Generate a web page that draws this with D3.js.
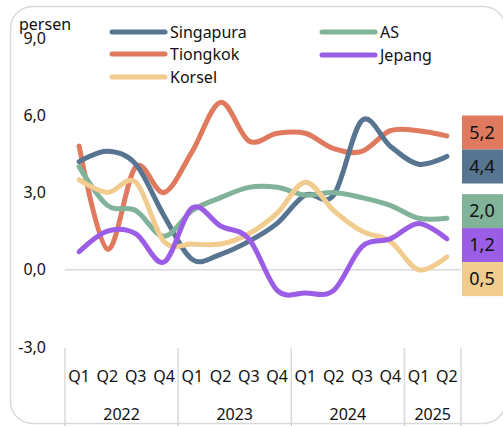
<!DOCTYPE html>
<html>
<head>
<meta charset="utf-8">
<script src="https://cdn.jsdelivr.net/npm/d3@7"></script>
<style>
  body { margin: 0; background: #fff; }
  svg { display: block; font-family: "Noto Sans", sans-serif; }
</style>
</head>
<body>
<div id="container"></div>
<script>
// Quarterly GDP growth, percent yoy
var quarters = ["Q1", "Q2", "Q3", "Q4", "Q1", "Q2", "Q3", "Q4", "Q1", "Q2", "Q3", "Q4", "Q1", "Q2"];
var years = ["2022", "2022", "2022", "2022", "2023", "2023", "2023", "2023", "2024", "2024", "2024", "2024", "2025", "2025"];
var yTicks = [-3, 0, 3, 6, 9];

var singapura = [4.2, 4.6, 4.1, 2.1, 0.4, 0.6, 1.1, 1.8, 2.9, 2.9, 5.8, 4.8, 4.1, 4.4];
var tiongkok = [4.8, 0.8, 4.0, 3.0, 4.6, 6.5, 5.0, 5.3, 5.3, 4.7, 4.6, 5.4, 5.4, 5.2];
var as = [4.0, 2.5, 2.3, 1.3, 2.3, 2.8, 3.2, 3.2, 2.9, 3.0, 2.8, 2.5, 2.0, 2.0];
var jepang = [0.7, 1.5, 1.4, 0.3, 2.4, 1.7, 1.2, -0.8, -0.9, -0.8, 0.9, 1.2, 1.8, 1.2];
var korsel = [3.5, 3.0, 3.4, 1.1, 1.0, 1.0, 1.4, 2.2, 3.4, 2.3, 1.5, 1.1, 0.0, 0.5];

var series = [
  {name: "Singapura", values: singapura, color: "#577590"},
  {name: "Tiongkok", values: tiongkok, color: "#e07a5f"},
  {name: "Korsel", values: korsel, color: "#f2cc8f"},
  {name: "AS", values: as, color: "#81b29a"},
  {name: "Jepang", values: jepang, color: "#9b5de5"}
];

var W = 503, H = 426;
var FS = 16;
var svg = d3.select("div#container").append("svg")
  .attr("width", W).attr("height", H);

// rounded frame
svg.append("rect")
  .attr("x", 10.5).attr("y", 6.5)
  .attr("width", 495).attr("height", 417)
  .attr("rx", 22)
  .attr("fill", "none")
  .attr("stroke", "#d9d9d9")
  .attr("stroke-width", 1.5);

var x = d3.scaleBand().domain(d3.range(quarters.length)).range([65, 461]);
var y = d3.scaleLinear().domain([-3, 9]).range([347, 38]);
var cx = function(i) { return x(i) + x.bandwidth() / 2; };
// comma decimals, plain hyphen for negatives
var fmt = function(v) { return d3.format(".1f")(v).replace(".", ",").replace("\u2212", "-"); };

// zero line
svg.append("line")
  .attr("x1", 65).attr("x2", 461)
  .attr("y1", y(0)).attr("y2", y(0))
  .attr("stroke", "#d9d9d9").attr("stroke-width", 1.5);

// y axis labels
svg.append("g").selectAll("text")
  .data(yTicks).enter().append("text")
  .attr("x", 46).attr("y", function(d) { return y(d); })
  .attr("dy", "0.35em")
  .attr("text-anchor", "end")
  .attr("font-size", FS)
  .attr("fill", "#111")
  .text(fmt);

svg.append("text")
  .attr("x", 19).attr("y", 30)
  .attr("font-size", FS)
  .attr("fill", "#111")
  .text("persen");

// category axis: quarter labels, year groups and separators
svg.append("g").selectAll("text")
  .data(quarters).enter().append("text")
  .attr("x", function(d, i) { return cx(i); })
  .attr("y", 376).attr("dy", "0.35em")
  .attr("text-anchor", "middle")
  .attr("font-size", FS)
  .attr("fill", "#111")
  .text(function(d) { return d; });

var groups = d3.groups(d3.range(years.length), function(i) { return years[i]; });
var gy = svg.append("g");
groups.forEach(function(g) {
  var first = g[1][0], last = g[1][g[1].length - 1];
  var x0 = x(first), x1 = x(last) + x.bandwidth();
  gy.append("text")
    .attr("x", (x0 + x1) / 2).attr("y", 414).attr("dy", "0.35em")
    .attr("text-anchor", "middle")
    .attr("font-size", FS)
    .attr("fill", "#111")
    .text(g[0]);
  gy.append("line")
    .attr("x1", x0).attr("x2", x0).attr("y1", 348).attr("y2", H)
    .attr("stroke", "#d9d9d9").attr("stroke-width", 1.5);
});
gy.append("line")
  .attr("x1", 461).attr("x2", 461).attr("y1", 348).attr("y2", H)
  .attr("stroke", "#d9d9d9").attr("stroke-width", 1.5);

// smoothed lines
var line = d3.line()
  .x(function(d, i) { return cx(i); })
  .y(function(d) { return y(d); })
  .curve(d3.curveCatmullRom.alpha(0));

var drawOrder = ["Tiongkok", "Singapura", "AS", "Korsel", "Jepang"];
drawOrder.forEach(function(n) {
  var s = series.find(function(d) { return d.name === n; });
  svg.append("path")
    .datum(s.values)
    .attr("fill", "none")
    .attr("stroke", s.color)
    .attr("stroke-width", 5)
    .attr("stroke-linecap", "round")
    .attr("stroke-linejoin", "round")
    .attr("d", line);
});

// end-value boxes, spread so they don't overlap
var boxH = 34;
var ends = series.map(function(s) {
  var v = s.values[s.values.length - 1];
  return {v: v, color: s.color, y0: y(v)};
}).sort(function(a, b) { return a.y0 - b.y0; });

// push-down layout
var push = [];
ends.forEach(function(d, i) {
  var p = d.y0;
  if (i > 0 && p < push[i - 1] + boxH) p = push[i - 1] + boxH;
  push.push(p);
});
// relaxed layout (clusters centred on their values)
var relax = ends.map(function(d) { return d.y0; });
for (var k = 0; k < 200; k++) {
  for (var i = 1; i < relax.length; i++) {
    var ov = relax[i - 1] + boxH - relax[i];
    if (ov > 0) { relax[i - 1] -= ov / 2; relax[i] += ov / 2; }
  }
}
ends.forEach(function(d, i) { d.yc = (push[i] + relax[i]) / 2; });

var lg = svg.append("g");
lg.selectAll("rect").data(ends).enter().append("rect")
  .attr("x", 462).attr("y", function(d) { return d.yc - boxH / 2; })
  .attr("width", 50).attr("height", boxH)
  .attr("fill", function(d) { return d.color; });
lg.selectAll("text").data(ends).enter().append("text")
  .attr("x", 482).attr("y", function(d) { return d.yc; })
  .attr("dy", "0.35em")
  .attr("text-anchor", "middle")
  .attr("font-size", 18)
  .attr("fill", "#111")
  .text(function(d) { return fmt(d.v); });

// legend
var legendPos = [
  {name: "Singapura", x: 112, y: 32},
  {name: "Tiongkok", x: 112, y: 54},
  {name: "Korsel", x: 112, y: 77},
  {name: "AS", x: 322, y: 32},
  {name: "Jepang", x: 322, y: 55}
];
legendPos.forEach(function(p) {
  var s = series.find(function(d) { return d.name === p.name; });
  var g = svg.append("g").attr("transform", "translate(" + p.x + "," + p.y + ")");
  g.append("line")
    .attr("x1", 0).attr("x2", 53)
    .attr("stroke", s.color).attr("stroke-width", 5)
    .attr("stroke-linecap", "round");
  g.append("text")
    .attr("x", 58).attr("dy", "0.35em")
    .attr("font-size", FS)
    .attr("fill", "#111")
    .text(s.name);
});
</script>
</body>
</html>
